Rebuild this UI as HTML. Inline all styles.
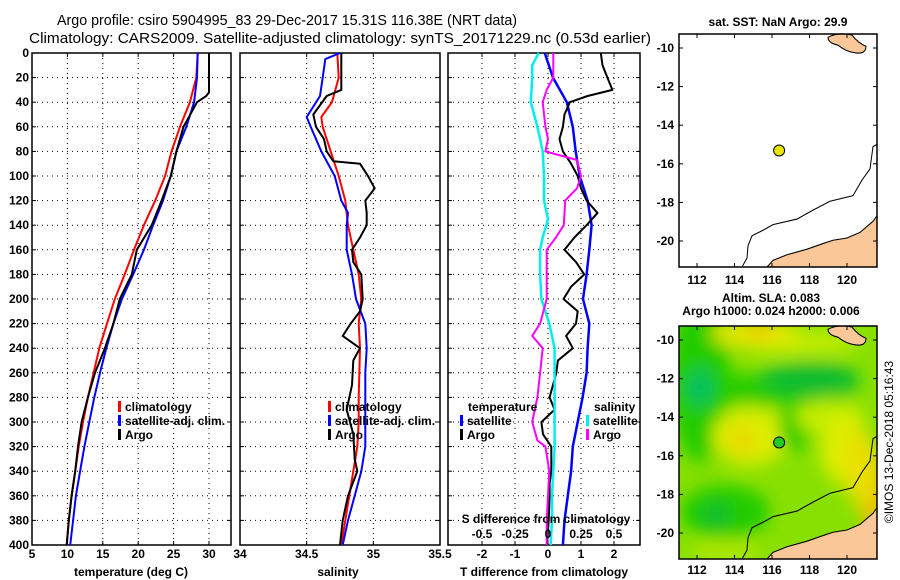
<!DOCTYPE html>
<html><head><meta charset="utf-8"><style>
body{margin:0;background:#fff;width:900px;height:580px;overflow:hidden}
svg{display:block}
text{font-family:"Liberation Sans",sans-serif}
.b{font-weight:bold;font-size:12px}
.t{font-size:15px}
</style></head><body>
<svg id="c" width="900" height="580" viewBox="0 0 900 580">
<defs>
<filter id="blur" x="-50%" y="-50%" width="200%" height="200%"><feGaussianBlur stdDeviation="8"/></filter>
<clipPath id="mclip"><rect x="679" y="32" width="198" height="209"/></clipPath>
</defs>
<text class="t" x="287" y="25" text-anchor="middle" textLength="460" lengthAdjust="spacingAndGlyphs">Argo profile: csiro 5904995_83 29-Dec-2017 15.31S 116.38E (NRT data)</text>
<text class="t" x="340" y="43" text-anchor="middle" textLength="622" lengthAdjust="spacingAndGlyphs">Climatology: CARS2009. Satellite-adjusted climatology: synTS_20171229.nc (0.53d earlier)</text>
<g id="g"></g>
</svg>
<script>
// ---------- data ----------
const depthTicks=[0,20,40,60,80,100,120,140,160,180,200,220,240,260,280,300,320,340,360,380,400];
const tempTicks=[5,10,15,20,25,30];
const salTicks=[34,34.5,35,35.5];
const tdiffTicks=[-2,-1,0,1,2];
const sdiffTicks=[-0.5,-0.25,0,0.25,0.5];
const stdDepth=[0,20,40,60,80,100,120,140,160,180,200,220,240,260,280,300,320,340,360,380,400];
const tempClim=[28.4,28.2,27.3,25.9,24.7,23.8,22.4,20.8,19.4,18.1,16.7,15.6,14.5,13.7,12.9,12.2,11.6,11.1,10.6,10.2,9.9];
const tempSat=[28.4,28.3,27.9,26.8,25.4,24.6,23.5,22.1,20.8,19.3,17.7,16.5,15.5,14.6,13.8,13.1,12.4,11.8,11.2,10.8,10.4];
const argoTDepth=[0,20,32,35,40,60,80,100,120,140,160,180,200,220,240,260,280,300,320,340,360,380,400];
const tempArgo=[30.0,30.0,30.0,29.6,28.3,26.4,25.4,24.6,23.3,21.9,19.8,19.1,17.4,16.5,15.3,13.9,12.9,12.0,11.5,11.1,10.6,10.2,9.9];
const salClimDepth=[0,20,40,52,60,80,100,120,140,160,180,200,220,240,280,300,320,340,360,380,400];
const salClim=[34.73,34.74,34.69,34.61,34.62,34.68,34.74,34.79,34.81,34.85,34.89,34.91,34.89,34.90,34.89,34.89,34.88,34.85,34.82,34.79,34.76];
const salSatDepth=[0,5,20,35,52,60,80,100,120,130,140,160,180,200,220,240,260,300,320,340,360,380,400];
const salSat=[34.75,34.64,34.62,34.60,34.50,34.53,34.61,34.71,34.76,34.81,34.80,34.80,34.84,34.87,34.94,34.95,34.94,34.94,34.94,34.91,34.86,34.81,34.77];
const salArgoDepth=[0,30,35,50,60,70,80,88,90,100,110,120,130,140,150,160,170,180,200,210,220,230,240,250,270,290,310,330,340,360,380,400];
const salArgo=[34.76,34.76,34.65,34.55,34.57,34.63,34.65,34.70,34.90,34.96,35.01,34.94,34.95,34.95,34.90,34.84,34.85,34.91,34.92,34.90,34.83,34.77,34.90,34.85,34.84,34.80,34.85,34.86,34.88,34.81,34.77,34.75];
const tdiffSat=[-0.1,0.15,0.57,0.75,0.84,0.96,1.2,1.32,1.25,1.17,1.06,1.25,1.2,1.17,1.05,0.9,0.75,0.7,0.6,0.5,0.45];
const tdiffArgoDepth=[0,10,20,30,35,40,50,60,70,80,90,100,110,120,130,140,150,160,170,180,190,200,210,220,230,240,250,260,280,290,300,310,320,340,350,360,380,400];
const tdiffArgo=[1.6,1.65,1.8,1.95,1.2,0.66,0.5,0.45,0.35,0.45,0.7,0.9,1.0,1.17,1.5,1.17,0.8,0.5,0.85,1.1,0.7,0.47,0.9,0.85,0.55,0.75,0.3,0.25,0.05,0.2,-0.2,-0.15,0.1,0.1,0.05,0.05,0.02,-0.03];
const sdiffSatDepth=[0,10,20,40,60,80,100,120,135,150,160,180,200,220,240,260,280,300,320,340,360,380,400];
const sdiffSat=[-0.07,-0.12,-0.12,-0.13,-0.08,-0.04,-0.03,-0.03,0,-0.04,-0.06,-0.06,-0.05,0.01,0.05,0.05,0.05,0.05,0.05,0.04,0.03,0.03,0.02];
const sdiffArgoDepth=[0,20,30,40,60,70,80,87,100,110,120,140,150,160,180,200,220,230,240,260,280,300,315,320,340,360,380,400];
const sdiffArgo=[0.04,0.04,-0.01,-0.04,-0.02,0,-0.02,0.22,0.25,0.22,0.13,0.12,0.06,-0.01,-0.01,-0.01,-0.06,-0.12,-0.04,-0.06,-0.08,-0.12,-0.08,-0.02,0.01,0,-0.01,-0.01];
const lonTicks=[112,114,116,118,120];
const latTicks=[-10,-12,-14,-16,-18,-20];
const argoLon=116.38, argoLat=-15.31;

// ---------- helpers ----------
const NS="http://www.w3.org/2000/svg";
const G=document.getElementById('g');
function mk(tag,attrs,parent){const e=document.createElementNS(NS,tag);for(const k in attrs)e.setAttribute(k,attrs[k]);(parent||G).appendChild(e);return e;}
function lin(d0,d1,r0,r1){return v=>r0+(v-d0)*(r1-r0)/(d1-d0);}
const Y0=53,Y1=545;
const yD=lin(0,400,Y0,Y1);

function panel(name,x0,x1,xs,ticks,fmt,showY){
  const box=mk('rect',{x:x0,y:Y0,width:x1-x0,height:Y1-Y0,fill:'none',stroke:'#000','stroke-width':1.5});
  
  
  depthTicks.forEach(d=>{
    const y=yD(d);
    if(d>0&&d<400){const l=mk('line',{x1:x0,x2:x1,y1:y,y2:y,stroke:'#000','stroke-dasharray':'1,4'});
      
      }
    mk('line',{x1:x0,x2:x0+4,y1:y,y2:y,stroke:'#000'});
    mk('line',{x1:x1-4,x2:x1,y1:y,y2:y,stroke:'#000'});
    if(showY){const t=mk('text',{x:29,y:y+4,'text-anchor':'end',class:'b'});t.textContent=d;
      
      }
  });
  ticks.forEach(v=>{
    const x=xs(v);
    if(x>x0+1&&x<x1-1){const l=mk('line',{x1:x,x2:x,y1:Y0,y2:Y1,stroke:'#000','stroke-dasharray':'1,4'});
      
      
      mk('line',{x1:x,x2:x,y1:Y0,y2:Y0+4,stroke:'#000'});mk('line',{x1:x,x2:x,y1:Y1-4,y2:Y1,stroke:'#000'});}
    const t=mk('text',{x:x,y:558,'text-anchor':'middle',class:'b'});t.textContent=fmt(v);
    
    
  });
}
function series(name,xs,vals,depths,color,w){
  const pts=vals.map((v,i)=>xs(v).toFixed(1)+','+yD(depths[i]).toFixed(1)).join(' ');
  const p=mk('polyline',{points:pts,fill:'none',stroke:color,'stroke-width':w,'stroke-linejoin':'round'});
  
  
}
function txt(name,x,y,s,anchor){const t=mk('text',{x:x,y:y,class:'b','text-anchor':anchor||'start'});t.textContent=s;
  
  return t;}
function legend(name,x,y,color,label){
  const r=mk('rect',{x:x,y:y-10,width:3,height:11,fill:color});
  
  
  txt(name+'-label',x+7,y,label);
}

// temperature panel
const xT=lin(5,30,32,209);
panel('temperature-panel',32,231,xT,tempTicks,v=>v,true);
series('temp-climatology-line',xT,tempClim,stdDepth,'#f00',2);
series('temp-satellite-line',xT,tempSat,stdDepth,'#00f',2);
series('temp-argo-line',xT,tempArgo,argoTDepth,'#000',2);
legend('legend-climatology',118,411,'#f00','climatology');
legend('legend-satellite-adj',118,425,'#00f','satellite-adj. clim.');
legend('legend-argo',118,439,'#000','Argo');
txt('temperature-axis-title',131,576,'temperature (deg C)','middle');

// salinity panel
const xS=lin(34,35.5,240,440);
panel('salinity-panel',240,440,xS,salTicks,v=>v,false);
series('sal-climatology-line',xS,salClim,salClimDepth,'#f00',2);
series('sal-satellite-line',xS,salSat,salSatDepth,'#00f',2);
series('sal-argo-line',xS,salArgo,salArgoDepth,'#000',2);
legend('sal-legend-climatology',328,411,'#f00','climatology');
legend('sal-legend-satellite-adj',328,425,'#00f','satellite-adj. clim.');
legend('sal-legend-argo',328,439,'#000','Argo');
txt('salinity-axis-title',338,576,'salinity','middle');

// difference panel
const xTd=lin(0,2,548,614);
const xSd=lin(0,0.5,548,614);
panel('difference-panel',448,640,xTd,tdiffTicks,v=>v,false);
series('tdiff-satellite-line',xTd,tdiffSat,stdDepth,'#00f',2.5);
series('tdiff-argo-line',xTd,tdiffArgo,tdiffArgoDepth,'#000',2);
series('sdiff-satellite-line',xSd,sdiffSat,sdiffSatDepth,'#0ee',2.5);
series('sdiff-argo-line',xSd,sdiffArgo,sdiffArgoDepth,'#f0f',2);
txt('diff-legend-temperature-heading',468,411,'temperature');
legend('diff-legend-t-satellite',460,425,'#00f','satellite');
legend('diff-legend-t-argo',460,439,'#000','Argo');
txt('diff-legend-salinity-heading',594,411,'salinity');
legend('diff-legend-s-satellite',586,425,'#0ee','satellite');
legend('diff-legend-s-argo',586,439,'#f0f','Argo');
txt('sdiff-axis-title',546,523,'S difference from climatology','middle');
sdiffTicks.forEach(v=>{txt('sdiff-tick-label',xSd(v),538,String(v),'middle');});
txt('tdiff-axis-title',544,576,'T difference from climatology','middle');

// maps
const mx=lin(112,120,697,847);
function mapFrame(name,yTop,latTo,lonY){
  const r=mk('rect',{x:679,y:yTop,width:198,height:233,fill:'none',stroke:'#000','stroke-width':1.5});
  
  
  lonTicks.forEach(l=>{const x=mx(l);mk('line',{x1:x,x2:x,y1:yTop,y2:yTop+4,stroke:'#000'});mk('line',{x1:x,x2:x,y1:yTop+229,y2:yTop+233,stroke:'#000'});
    txt(name+'-lon-label',x,lonY,l,'middle');});
  latTicks.forEach(l=>{const y=latTo(l);mk('line',{x1:679,x2:683,y1:y,y2:y,stroke:'#000'});mk('line',{x1:873,x2:877,y1:y,y2:y,stroke:'#000'});
    txt(name+'-lat-label',674,y+4,l,'end');});
}
function coast(parent){
  const land=mk('polygon',{points:'767,241 773,235 787,230 807,225 823,220 833,217 847,215 860,210 873,200 877,195 877,241',fill:'#fac898',stroke:'#000','stroke-width':1},parent);
  
  
  const isl=mk('path',{d:'M828,35 Q838,30 852,33 Q858,40 866,43 Q866,50 856,49 Q846,48 838,42 Q828,40 828,35Z',fill:'#fac898',stroke:'#000','stroke-width':1},parent);
  
  
  const c=mk('polyline',{points:'877,131 873,133 870,153 862,163 853,177 830,182 813,190 797,198 773,203 763,208 752,213 748,222 747,233 742,241',fill:'none',stroke:'#000','stroke-width':1},parent);
  
  
}
const SC=233/209;
// top map
const myTop=lin(-10,-20,48,241);
const tg=mk('g',{transform:`translate(0,34) scale(1,${SC}) translate(0,-32)`});


coast(tg);
mapFrame('sst-map',34,myTop,284);
const d1=mk('circle',{cx:mx(argoLon),cy:myTop(argoLat),r:5.5,fill:'#e6e600',stroke:'#000'});


txt('sst-map-title',778,26,'sat. SST: NaN Argo: 29.9','middle');
// bottom map
const myBot=lin(-10,-20,340,533);
const bg=mk('g',{transform:`translate(0,326) scale(1,${SC}) translate(0,-32)`});
const hg=mk('g',{'clip-path':'url(#mclip)'},bg);


mk('rect',{x:679,y:32,width:198,height:209,fill:'#88e000'},hg);
const bl=mk('g',{filter:'url(#blur)'},hg);
[['#22cc00',700,79,30,75],['#22cc00',770,89,90,14],['#11bb33',810,79,50,14],['#00c060',700,87,14,16],
 ['#c8ee00',800,47,60,10],['#e8e800',755,39,45,12],['#f2c800',760,35,16,7],
 ['#dded00',750,131,38,26],['#e8d800',742,135,14,12],['#22cc00',795,124,16,20],['#c8ee00',830,114,35,15],
 ['#22cc00',725,199,45,24],['#11bb33',716,201,14,10],['#dded00',845,144,25,30],
 ['#f0c000',872,179,12,40],['#e8e000',860,159,16,35],['#b0e800',725,234,35,10]].forEach(b=>mk('ellipse',{cx:b[1],cy:b[2],rx:b[3],ry:b[4],fill:b[0]},bl));
coast(hg);
mapFrame('sla-map',326,myBot,574);
const d2=mk('circle',{cx:mx(argoLon),cy:myBot(argoLat),r:5.5,fill:'#22cc22',stroke:'#000'});


txt('sla-map-title-1',771,302,'Altim. SLA: 0.083','middle');
txt('sla-map-title-2',771,315,'Argo h1000: 0.024 h2000: 0.006','middle');
const cr=mk('text',{x:0,y:0,transform:'translate(893,442) rotate(-90)','text-anchor':'middle','font-size':'12'});
cr.textContent='©IMOS 13-Dec-2018 05:16:43';


</script>
</body></html>
